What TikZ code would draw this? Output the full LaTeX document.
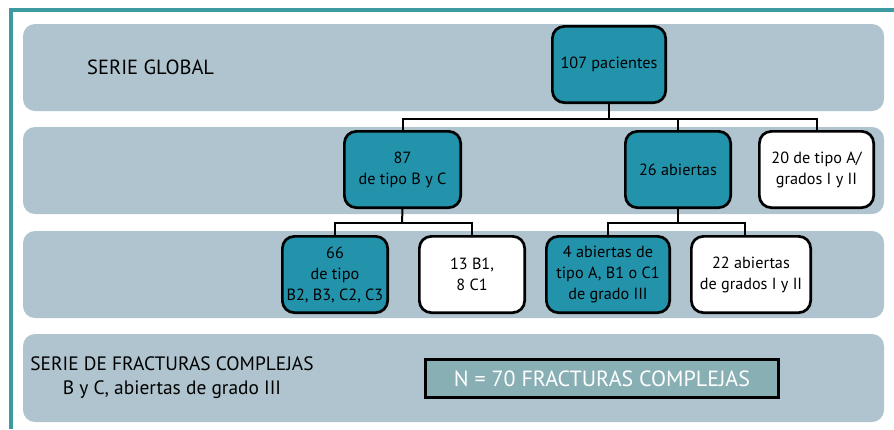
\documentclass[tikz,border=0pt]{standalone}
\usepackage{fontspec}
\setmainfont{PT Sans}
\definecolor{band}{HTML}{AFC4CE}
\definecolor{teal}{HTML}{2393AC}
\definecolor{frame}{HTML}{3B9BA0}
\definecolor{nbox}{HTML}{87AFB4}
\begin{document}
\begin{tikzpicture}[x=1pt,y=-1pt,
  bandbox/.style={fill=band,rounded corners=12pt},
  box/.style={draw=black,line width=2.7pt,rounded corners=12pt,inner sep=0pt,align=center,
     font=\fontsize{16.2}{21}\selectfont,minimum height=76.3pt},
  tealbox/.style={box,fill=teal},
  whitebox/.style={box,fill=white},
  conn/.style={draw=black,line width=2pt},
  lbl/.style={font=\fontsize{19.4}{24}\selectfont,align=center}]
\useasboundingbox (0,0) rectangle (894,429);
% frame
\draw[frame,line width=4pt] (11,429) -- (11,10) -- (894,10);
% bands
\fill[bandbox] (23,24) rectangle (884,111);
\fill[bandbox] (23,127) rectangle (884,214);
\fill[bandbox] (23,231) rectangle (884,318);
\fill[bandbox] (23,334) rectangle (884,422);
% labels
\node[lbl,font=\fontsize{20.5}{24}\selectfont,anchor=west,inner sep=0pt] (sg) at (87,67) {SERIE GLOBAL};
\node[lbl] (sf) at (172,378) {SERIE DE FRACTURAS COMPLEJAS\\B y C, abiertas de grado III};
% nodes
\node[tealbox,minimum width=113.3pt] (p107) at (609,64.5) {107 pacientes};
\node[tealbox,minimum width=116.3pt] (b87) at (402.5,169.5) {87\\de tipo B y C};
\node[tealbox,minimum width=105.3pt] (b26) at (678,169.5) {26 abiertas};
\node[whitebox,minimum width=114.3pt] (b20) at (816.5,169.5) {20 de tipo A/\\grados I y II};
\node[tealbox,minimum width=105.3pt] (b66) at (335,274.5) {66\\de tipo\\B2, B3, C2, C3};
\node[whitebox,minimum width=105.3pt] (b13) at (472,274.5) {13 B1,\\8 C1};
\node[tealbox,minimum width=123.3pt] (b4) at (608,274.5) {4 abiertas de\\tipo A, B1 o C1\\de grado III};
\node[whitebox,minimum width=119.3pt] (b22) at (751,274.5) {22 abiertas\\de grados I y II};
\node[draw=black,line width=2.7pt,fill=nbox,minimum width=353.3pt,minimum height=38.3pt,
  text=white,font=\fontsize{22}{24}\selectfont] (n70) at (602,378.5) {N = 70 FRACTURAS COMPLEJAS};
% connectors
\coordinate (j1) at (609,118.5);
\coordinate (j2) at (402,223);
\coordinate (j3) at (678,223);
\draw[conn] (p107.south) -- (j1);
\draw[conn] (b87.north) |- (j1) -| (b20.north);
\draw[conn] (b26.north) -- (b26.north |- j1);
\draw[conn] (b87.south) -- (j2);
\draw[conn] (b66.north) |- (j2) -| (b13.north);
\draw[conn] (b26.south) -- (j3);
\draw[conn] (b4.north) |- (j3) -| ([xshift=-6pt]b22.north);
\end{tikzpicture}
\end{document}
